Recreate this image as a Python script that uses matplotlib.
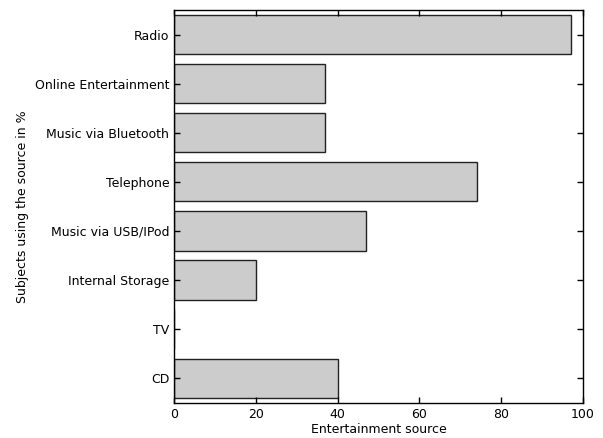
import numpy as np
import matplotlib
matplotlib.use('Agg')
import matplotlib.pyplot as plt

# Data (top to bottom)
sources = ['Radio', 'Online Entertainment', 'Music via Bluetooth', 'Telephone',
           'Music via USB/IPod', 'Internal Storage', 'TV', 'CD']
percent = [97, 37, 37, 74, 47, 20, 0, 40]

plt.rcParams['font.family'] = 'DejaVu Sans'
plt.rcParams['font.size'] = 9

fig = plt.figure(figsize=(6.03, 4.38), dpi=100)
ax = fig.add_axes([0.2886, 0.0806, 0.678, 0.8965])

pos = np.arange(len(sources))
ax.barh(pos, percent, height=0.8, color='#cccccc', edgecolor='#222222', linewidth=1)

ax.set_yticks(pos)
ax.set_yticklabels(sources)
ax.set_ylim(len(sources) - 0.5, -0.5)
ax.set_xlim(0, 100)
ax.set_xticks([0, 20, 40, 60, 80, 100])

ax.tick_params(direction='in', top=True, right=True, length=4, width=1)
for s in ax.spines.values():
    s.set_linewidth(1)

ax.set_xlabel('Entertainment source', labelpad=2)
ax.set_ylabel('Subjects using the source in %')

fig.savefig('out.png', dpi=100)
